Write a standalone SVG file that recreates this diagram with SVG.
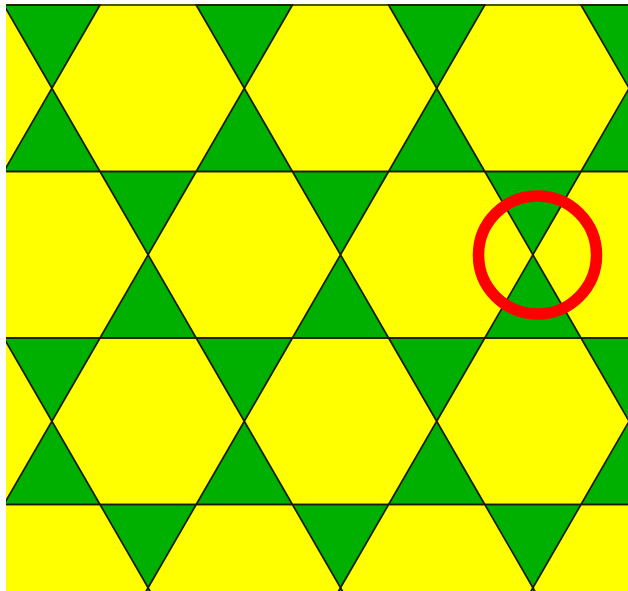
<svg xmlns="http://www.w3.org/2000/svg" width="628" height="591" viewBox="0 0 628 591">
<style>
.t{fill:#00b000;stroke:#1a1a0a;stroke-width:1.7;stroke-linejoin:miter}
.h{stroke:#1a1a0a;stroke-width:1.7}
</style>
<defs><clipPath id="c"><rect x="6" y="4" width="622" height="587"/></clipPath></defs>
<rect width="628" height="591" fill="#fff"/>
<g id="tiling" clip-path="url(#c)">
<rect x="0" y="0" width="628" height="591" fill="#ffff00"/>
<g id="row0">
<polygon class="t" points="3.8,5 100,5 51.9,88.25"/>
<polygon class="t" points="196.2,5 292.4,5 244.3,88.25"/>
<polygon class="t" points="388.6,5 484.8,5 436.7,88.25"/>
<polygon class="t" points="581,5 677.2,5 629.1,88.25"/>
</g>
<g id="row1">
<polygon class="t" points="3.8,171.5 100,171.5 51.9,88.25"/>
<polygon class="t" points="196.2,171.5 292.4,171.5 244.3,88.25"/>
<polygon class="t" points="388.6,171.5 484.8,171.5 436.7,88.25"/>
<polygon class="t" points="581,171.5 677.2,171.5 629.1,88.25"/>
<polygon class="t" points="100,171.5 196.2,171.5 148.1,254.75"/>
<polygon class="t" points="292.4,171.5 388.6,171.5 340.5,254.75"/>
<polygon class="t" points="484.8,171.5 581,171.5 532.9,254.75"/>
</g>
<g id="row2">
<polygon class="t" points="100,338 196.2,338 148.1,254.75"/>
<polygon class="t" points="292.4,338 388.6,338 340.5,254.75"/>
<polygon class="t" points="484.8,338 581,338 532.9,254.75"/>
<polygon class="t" points="3.8,338 100,338 51.9,421.25"/>
<polygon class="t" points="196.2,338 292.4,338 244.3,421.25"/>
<polygon class="t" points="388.6,338 484.8,338 436.7,421.25"/>
<polygon class="t" points="581,338 677.2,338 629.1,421.25"/>
</g>
<g id="row3">
<polygon class="t" points="3.8,504.5 100,504.5 51.9,421.25"/>
<polygon class="t" points="196.2,504.5 292.4,504.5 244.3,421.25"/>
<polygon class="t" points="388.6,504.5 484.8,504.5 436.7,421.25"/>
<polygon class="t" points="581,504.5 677.2,504.5 629.1,421.25"/>
<polygon class="t" points="100,504.5 196.2,504.5 148.1,587.75"/>
<polygon class="t" points="292.4,504.5 388.6,504.5 340.5,587.75"/>
<polygon class="t" points="484.8,504.5 581,504.5 532.9,587.75"/>
</g>
<g id="row4">
<polygon class="t" points="100,671 196.2,671 148.1,587.75"/>
<polygon class="t" points="292.4,671 388.6,671 340.5,587.75"/>
<polygon class="t" points="484.8,671 581,671 532.9,587.75"/>
</g>
<g id="hlines">
<line class="h" x1="0" y1="5" x2="628" y2="5"/>
<line class="h" x1="0" y1="171.5" x2="628" y2="171.5"/>
<line class="h" x1="0" y1="338" x2="628" y2="338"/>
<line class="h" x1="0" y1="504.5" x2="628" y2="504.5"/>
</g>
</g>
<circle id="highlight" cx="537.5" cy="255" r="59" fill="none" stroke="#ff0000" stroke-width="11.5"/>
</svg>
